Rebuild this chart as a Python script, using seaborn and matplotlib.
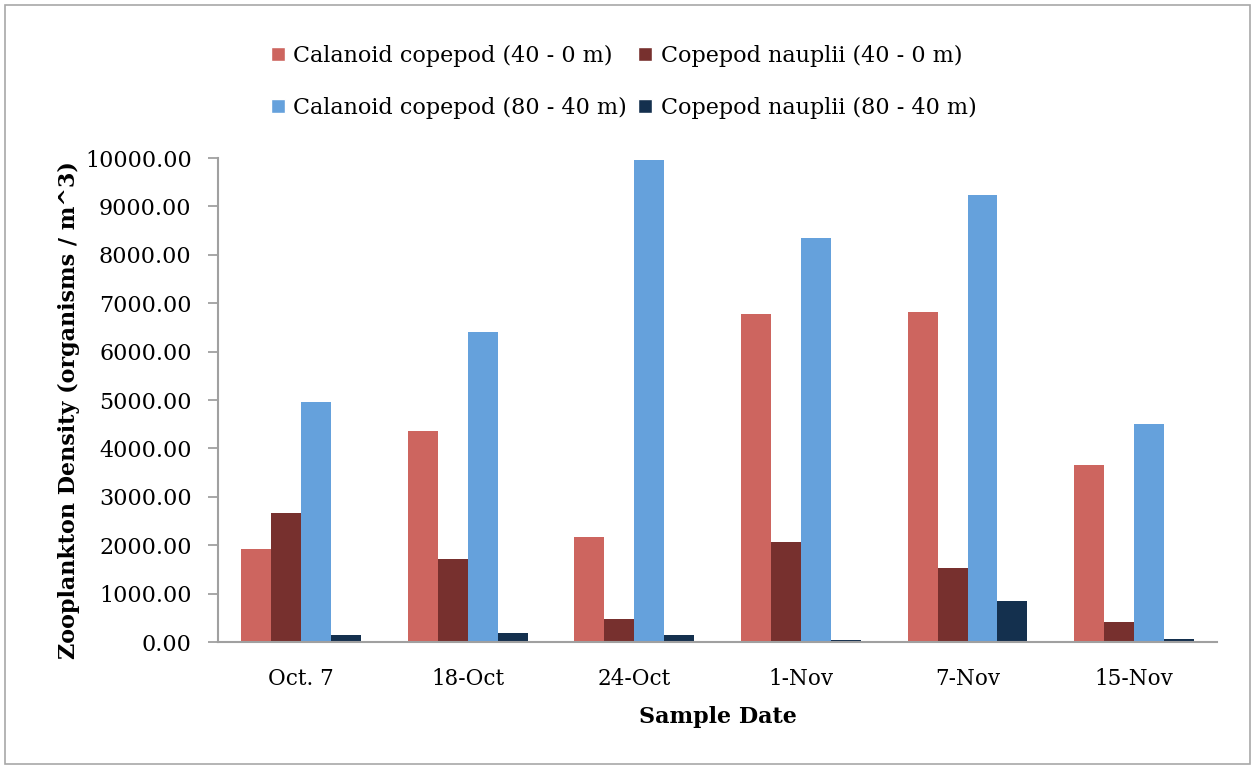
import numpy as np
import pandas as pd
import matplotlib
matplotlib.use("Agg")
import matplotlib.pyplot as plt
from matplotlib.patches import Rectangle, Patch
import seaborn as sns

# values
dates = ["Oct. 7", "18-Oct", "24-Oct", "1-Nov", "7-Nov", "15-Nov"]
series = [
    "Calanoid copepod (40 - 0 m)",
    "Copepod nauplii (40 - 0 m)",
    "Calanoid copepod (80 - 40 m)",
    "Copepod nauplii (80 - 40 m)",
]
calanoid_shallow = [1925, 4360, 2170, 6780, 6820, 3665]
nauplii_shallow = [2670, 1720, 470, 2060, 1530, 415]
calanoid_deep = [4955, 6405, 9950, 8350, 9240, 4505]
nauplii_deep = [152, 180, 138, 42, 842, 70]
colors = ["#CD655F", "#77302E", "#65A1DC", "#14304E"]

rows = []
for name, vals in zip(series, [calanoid_shallow, nauplii_shallow, calanoid_deep, nauplii_deep]):
    for d, v in zip(dates, vals):
        rows.append({"date": d, "series": name, "value": v})
df = pd.DataFrame(rows)

sns.set_theme(style="white")
plt.rcParams["font.family"] = ["DejaVu Serif"]
plt.rcParams["text.color"] = "black"
plt.rcParams["axes.labelcolor"] = "black"
plt.rcParams["xtick.labelcolor"] = "black"
plt.rcParams["ytick.labelcolor"] = "black"

fig = plt.figure(figsize=(12.55, 7.69), dpi=100)
ax = fig.add_axes([0.1737, 0.1651, 0.7963, 0.6294])

sns.barplot(data=df, x="date", y="value", hue="series", order=dates,
            hue_order=series, palette=colors, width=0.72, saturation=1,
            edgecolor="none", ax=ax)
ax.get_legend().remove()

ax.set_ylim(0, 10000)
ax.set_xlim(-0.5, 5.5)
yt = np.arange(0, 10001, 1000)
ax.set_yticks(yt)
ax.set_yticklabels([f"{v:.2f}" for v in yt], fontsize=16)
ax.set_xticks(range(len(dates)))
ax.set_xticklabels(dates, fontsize=15.5)
ax.set_xticks(np.arange(-0.5, 6, 1), minor=True)
ax.tick_params(axis="x", which="major", length=0, pad=19)
ax.tick_params(axis="x", which="minor", length=7, width=1.3, color="#A0A0A0", direction="out")
ax.tick_params(axis="y", length=7, width=1.3, color="#A0A0A0", direction="out", pad=12, left=True)

for s in ["top", "right"]:
    ax.spines[s].set_visible(False)
for s in ["left", "bottom"]:
    ax.spines[s].set_color("#A0A0A0")
    ax.spines[s].set_linewidth(1.5)

ax.set_ylabel("Zooplankton Density (organisms / m^3)", fontsize=16, fontweight="bold")
ax.set_xlabel("Sample Date", fontsize=16, fontweight="bold")
ax.yaxis.set_label_coords(-0.138, 0.48)
ax.xaxis.set_label_coords(0.5, -0.132)

handles = [Patch(facecolor=c) for c in colors]
order = [0, 2, 1, 3]
fig.legend([handles[i] for i in order], [series[i] for i in order],
           ncol=2, loc="upper center", bbox_to_anchor=(0.497, 0.968),
           frameon=False, fontsize=16, handlelength=0.6, handleheight=0.6,
           handletextpad=0.4, columnspacing=0.5, labelspacing=1.35)

fig.patches.append(Rectangle((0.004, 0.006), 0.992, 0.988, transform=fig.transFigure,
                             fill=False, edgecolor="#A8A8A8", linewidth=1.2))

fig.savefig("out.png", dpi=100)
